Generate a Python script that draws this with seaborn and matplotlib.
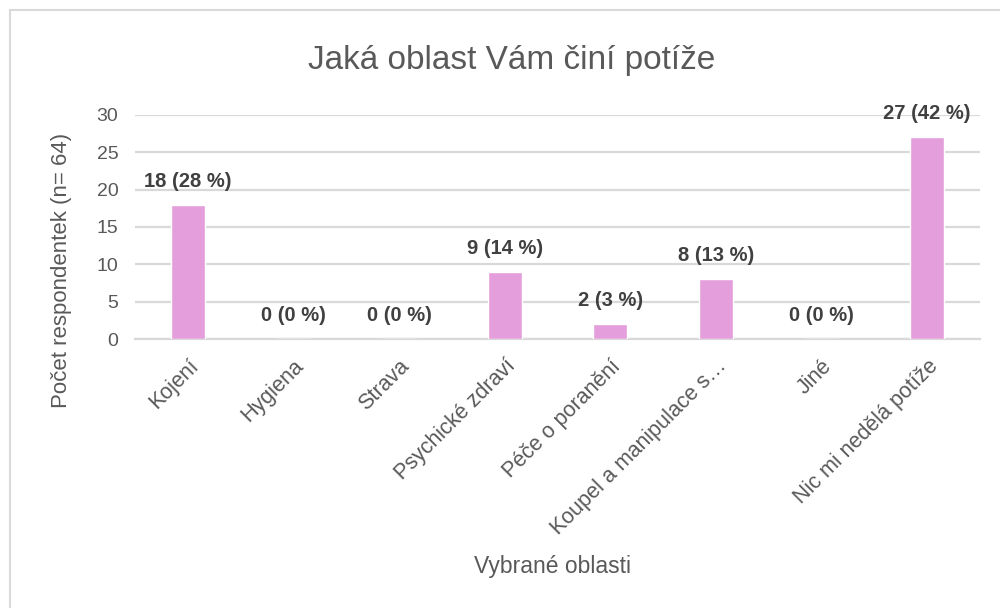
import matplotlib
matplotlib.use('Agg')
import matplotlib.pyplot as plt
import seaborn as sns
import pandas as pd

categories = ['Kojení', 'Hygiena', 'Strava', 'Psychické zdraví', 'Péče o poranění',
              'Koupel a manipulace s…', 'Jiné', 'Nic mi nedělá potíže']
counts = [18, 0, 0, 9, 2, 8, 0, 27]
percents = [28, 0, 0, 14, 3, 13, 0, 42]
yticks = [0, 5, 10, 15, 20, 25, 30]

df = pd.DataFrame({'oblast': categories, 'pocet': counts})

sns.set_style('white')
plt.rcParams['font.family'] = ['Liberation Sans', 'DejaVu Sans']

fig = plt.figure(figsize=(10, 6.08), dpi=100)
ax = fig.add_axes([0.135, 0.4424, 0.845, 0.3685])

sns.barplot(data=df, x='oblast', y='pocet', color='#e39edb', width=0.32,
            saturation=1, ax=ax, zorder=3)

ax.set_ylim(0, 30)
ax.set_yticks(yticks)
ax.set_xlim(-0.5, len(categories) - 0.5)
ax.yaxis.grid(True, color='#d9d9d9', linewidth=1.6, zorder=0)
for s in ['top', 'right', 'left']:
    ax.spines[s].set_visible(False)
ax.spines['bottom'].set_color('#d9d9d9')
ax.spines['bottom'].set_linewidth(1.6)
ax.tick_params(axis='both', length=0, colors='#595959')
ax.tick_params(axis='y', pad=12, labelsize=14)
ax.tick_params(axis='x', pad=12, labelsize=15.5)
plt.setp(ax.get_xticklabels(), rotation=45, ha='right', rotation_mode='anchor')

for i, (c, p) in enumerate(zip(counts, percents)):
    ax.annotate(f'{c} ({p} %)', (i, c), xytext=(0, 10), textcoords='offset points',
                ha='center', va='bottom', fontsize=14.5, fontweight='bold', color='#404040')

ax.set_xlabel('Vybrané oblasti', fontsize=16.5, color='#595959')
ax.set_ylabel('Počet respondentek (n= 64)', fontsize=16, color='#595959')
# label positions in figure coordinates
ax.xaxis.set_label_coords(0.552, 1 - 566 / 608, transform=fig.transFigure)
ax.yaxis.set_label_coords(0.062, 1 - 270 / 608, transform=fig.transFigure)
ax.xaxis.label.set_va('center')
ax.yaxis.label.set_va('center')

fig.text(0.512, 1 - 60 / 608, 'Jaká oblast Vám činí potíže', ha='center', va='center',
         fontsize=24, color='#595959')

# chart frame
fig.add_artist(plt.Rectangle((0.01, -0.1), 1.2, 1 - 10 / 608 + 0.1,
                             transform=fig.transFigure, fill=False,
                             edgecolor='#d9d9d9', linewidth=1.5))

plt.savefig('out.png', dpi=100)
